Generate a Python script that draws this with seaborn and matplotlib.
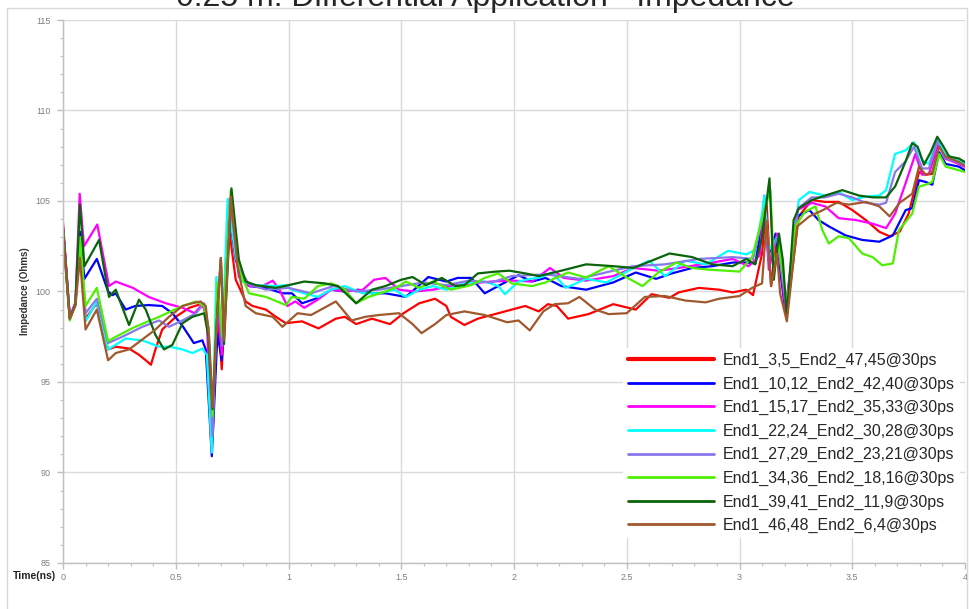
import matplotlib
matplotlib.use("Agg")
import matplotlib.pyplot as plt
import pandas as pd
import seaborn as sns
from matplotlib.patches import Rectangle
from matplotlib.ticker import MultipleLocator, FuncFormatter

# ---------------- data ----------------
series_names = [
    "End1_3,5_End2_47,45@30ps",
    "End1_10,12_End2_42,40@30ps",
    "End1_15,17_End2_35,33@30ps",
    "End1_22,24_End2_30,28@30ps",
    "End1_27,29_End2_23,21@30ps",
    "End1_34,36_End2_18,16@30ps",
    "End1_39,41_End2_11,9@30ps",
    "End1_46,48_End2_6,4@30ps",
]
series_colors = ["#FF0000", "#0000FF", "#FF00FF", "#00FFFF",
                 "#8878EA", "#4CF000", "#0A640A", "#A0582D"]

red_t = [0, 0.03, 0.055, 0.075, 0.1, 0.15, 0.2, 0.234, 0.293, 0.337, 0.367, 0.39, 0.41, 0.44, 0.5, 0.56, 0.61, 0.633, 0.648, 0.665, 0.685, 0.704, 0.737, 0.766, 0.81, 0.84, 0.9, 0.944, 0.988, 1.06, 1.133, 1.21, 1.25, 1.3, 1.37, 1.45, 1.51, 1.58, 1.65, 1.7, 1.72, 1.78, 1.84, 1.9, 1.99, 2.05, 2.11, 2.15, 2.19, 2.24, 2.33, 2.44, 2.54, 2.61, 2.69, 2.73, 2.82, 2.91, 2.97, 3.03, 3.06, 3.1, 3.12, 3.14, 3.167, 3.21, 3.263, 3.32, 3.38, 3.44, 3.5, 3.56, 3.62, 3.666, 3.71, 3.75, 3.796, 3.826, 3.855, 3.885, 3.914, 3.973, 4.0]
red_v = [103.8, 98.5, 99.3, 103.2, 98.5, 99.35, 96.8, 96.95, 96.85, 96.5, 96.2, 95.95, 96.8, 97.9, 98.6, 99.1, 99.3, 99.0, 97.0, 92.5, 99.0, 95.7, 103.4, 100.65, 99.45, 99.2, 99.0, 98.6, 98.25, 98.35, 97.96, 98.5, 98.6, 98.2, 98.5, 98.2, 98.8, 99.35, 99.6, 99.2, 98.6, 98.15, 98.5, 98.7, 99.0, 99.2, 98.9, 99.3, 99.2, 98.5, 98.75, 99.3, 99.0, 99.85, 99.65, 99.95, 100.2, 100.1, 99.95, 100.1, 99.8, 102.1, 104.9, 100.3, 103.0, 98.8, 104.15, 105.05, 104.95, 104.95, 104.5, 103.95, 103.3, 103.05, 103.3, 104.3, 106.6, 106.45, 106.5, 108.1, 107.45, 107.05, 106.9]

blue_t = [0, 0.03, 0.055, 0.075, 0.095, 0.15, 0.2, 0.22, 0.234, 0.278, 0.32, 0.38, 0.44, 0.485, 0.53, 0.58, 0.618, 0.633, 0.66, 0.685, 0.704, 0.737, 0.766, 0.796, 0.825, 0.9, 0.973, 1.015, 1.06, 1.12, 1.19, 1.25, 1.31, 1.37, 1.43, 1.52, 1.58, 1.62, 1.7, 1.75, 1.81, 1.87, 1.93, 2.02, 2.08, 2.14, 2.21, 2.32, 2.44, 2.54, 2.63, 2.7, 2.79, 2.88, 2.97, 3.03, 3.07, 3.11, 3.13, 3.16, 3.204, 3.256, 3.31, 3.35, 3.396, 3.47, 3.544, 3.62, 3.68, 3.737, 3.766, 3.796, 3.826, 3.855, 3.885, 3.914, 3.973, 4.0]
blue_v = [103.5, 98.6, 99.3, 103.3, 100.7, 101.8, 100.0, 99.8, 99.9, 99.0, 99.2, 99.25, 99.2, 98.8, 98.1, 97.15, 97.3, 96.8, 90.9, 97.7, 96.2, 104.3, 101.75, 100.65, 100.3, 100.2, 99.9, 99.9, 99.35, 99.6, 100.1, 100.0, 100.1, 99.9, 99.9, 99.7, 100.35, 100.8, 100.55, 100.75, 100.75, 99.9, 100.3, 100.9, 100.55, 100.75, 100.3, 100.1, 100.5, 101.05, 100.7, 101.0, 101.3, 101.4, 101.6, 101.6, 101.55, 104.5, 101.75, 103.2, 98.8, 104.15, 104.5, 103.95, 103.6, 103.1, 102.85, 102.75, 103.1, 104.5, 104.6, 106.15, 106.05, 105.9, 107.7, 107.05, 106.9, 106.7]

mag_t = [0, 0.03, 0.055, 0.074, 0.093, 0.152, 0.204, 0.234, 0.31, 0.38, 0.456, 0.53, 0.584, 0.618, 0.638, 0.658, 0.685, 0.704, 0.737, 0.78, 0.825, 0.885, 0.93, 0.96, 0.995, 1.03, 1.07, 1.13, 1.19, 1.25, 1.33, 1.38, 1.43, 1.49, 1.56, 1.64, 1.72, 1.81, 1.9, 1.99, 2.08, 2.16, 2.22, 2.32, 2.44, 2.53, 2.64, 2.73, 2.88, 2.97, 3.04, 3.07, 3.09, 3.11, 3.13, 3.167, 3.204, 3.256, 3.32, 3.38, 3.44, 3.515, 3.59, 3.65, 3.69, 3.737, 3.78, 3.81, 3.84, 3.885, 3.91, 3.973, 4.0]
mag_v = [103.6, 98.6, 99.4, 105.4, 102.5, 103.7, 100.3, 100.55, 100.2, 99.7, 99.35, 99.1, 98.8, 99.3, 98.5, 91.3, 99.5, 96.5, 105.1, 100.8, 100.3, 100.3, 100.6, 100.1, 99.2, 99.45, 99.1, 99.55, 100.1, 100.0, 100.1, 100.65, 100.75, 100.1, 100.0, 100.1, 100.3, 100.45, 100.55, 100.6, 100.55, 101.3, 100.75, 100.6, 100.85, 101.3, 101.15, 101.3, 101.6, 101.8, 101.4, 101.75, 102.0, 105.3, 101.2, 103.2, 99.0, 104.5, 104.9, 104.7, 104.05, 103.95, 103.75, 103.5, 104.3, 106.0, 107.6, 106.45, 106.5, 108.25, 107.35, 107.05, 106.9]

cyan_t = [0, 0.03, 0.055, 0.075, 0.1, 0.15, 0.2, 0.278, 0.352, 0.426, 0.47, 0.53, 0.574, 0.618, 0.638, 0.66, 0.68, 0.707, 0.73, 0.766, 0.796, 0.855, 0.944, 0.988, 1.015, 1.07, 1.13, 1.19, 1.25, 1.33, 1.4, 1.47, 1.52, 1.58, 1.64, 1.7, 1.78, 1.87, 1.93, 1.96, 2.02, 2.07, 2.11, 2.17, 2.23, 2.32, 2.41, 2.53, 2.6, 2.67, 2.76, 2.85, 2.95, 3.03, 3.07, 3.1, 3.11, 3.13, 3.167, 3.21, 3.263, 3.31, 3.38, 3.44, 3.5, 3.56, 3.62, 3.65, 3.69, 3.737, 3.774, 3.81, 3.84, 3.877, 3.91, 3.973, 4.0]
cyan_v = [103.3, 98.5, 99.3, 103.0, 98.35, 99.45, 96.8, 97.4, 97.3, 96.95, 96.95, 96.8, 96.6, 96.85, 96.5, 91.1, 100.8, 97.3, 105.1, 101.9, 100.55, 100.35, 100.3, 100.35, 100.1, 99.9, 99.7, 100.1, 100.3, 99.9, 99.9, 100.1, 99.7, 100.1, 100.3, 100.1, 100.45, 100.55, 100.3, 99.85, 100.55, 100.7, 100.75, 101.05, 100.2, 100.7, 100.5, 101.3, 101.7, 100.85, 101.7, 101.5, 102.25, 102.05, 102.3, 104.3, 105.3, 102.3, 103.0, 99.2, 105.05, 105.5, 105.3, 105.5, 105.05, 105.25, 105.3, 105.6, 107.6, 107.8, 108.25, 107.25, 107.05, 108.45, 107.6, 107.25, 107.05]

pur_t = [0, 0.03, 0.055, 0.075, 0.1, 0.15, 0.2, 0.263, 0.352, 0.426, 0.47, 0.53, 0.59, 0.626, 0.645, 0.663, 0.685, 0.707, 0.74, 0.78, 0.825, 0.9, 1.0, 1.1, 1.2, 1.3, 1.4, 1.5, 1.6, 1.7, 1.8, 1.9, 1.99, 2.14, 2.29, 2.44, 2.53, 2.67, 2.82, 2.97, 3.06, 3.11, 3.13, 3.167, 3.21, 3.26, 3.32, 3.38, 3.44, 3.5, 3.56, 3.62, 3.65, 3.69, 3.737, 3.774, 3.81, 3.84, 3.877, 3.91, 3.973, 4.0]
pur_v = [103.3, 98.5, 99.3, 103.0, 98.8, 99.6, 97.15, 97.5, 98.05, 98.4, 98.05, 98.4, 98.8, 99.35, 98.0, 92.0, 100.0, 97.0, 105.0, 101.3, 100.4, 100.1, 100.2, 99.9, 100.3, 100.0, 100.1, 100.3, 100.5, 100.35, 100.6, 100.5, 100.85, 100.95, 100.7, 101.15, 101.4, 101.5, 101.8, 101.9, 101.8, 104.5, 101.8, 103.0, 99.0, 104.6, 105.2, 105.2, 105.4, 105.2, 104.9, 104.8, 104.9, 106.6, 107.2, 108.0, 106.8, 106.8, 108.3, 107.4, 107.1, 106.95]

grn_t = [0, 0.03, 0.055, 0.075, 0.1, 0.15, 0.2, 0.234, 0.32, 0.426, 0.53, 0.59, 0.626, 0.645, 0.663, 0.685, 0.707, 0.744, 0.78, 0.825, 0.9, 0.988, 1.015, 1.07, 1.13, 1.19, 1.25, 1.3, 1.355, 1.43, 1.49, 1.52, 1.58, 1.64, 1.72, 1.81, 1.87, 1.93, 1.99, 2.08, 2.14, 2.24, 2.32, 2.42, 2.5, 2.57, 2.64, 2.72, 2.79, 2.87, 2.94, 3.0, 3.056, 3.115, 3.137, 3.152, 3.175, 3.21, 3.248, 3.29, 3.337, 3.367, 3.396, 3.44, 3.485, 3.544, 3.59, 3.633, 3.68, 3.707, 3.766, 3.796, 3.826, 3.855, 3.885, 3.914, 3.973, 4.0]
grn_v = [103.3, 98.4, 99.3, 103.0, 99.2, 100.2, 97.25, 97.5, 98.05, 98.6, 99.2, 99.45, 99.2, 98.0, 93.1, 100.5, 97.5, 105.6, 101.2, 99.9, 99.7, 99.25, 99.7, 99.6, 100.3, 100.45, 100.1, 99.35, 99.7, 100.0, 100.3, 100.55, 100.2, 100.55, 100.1, 100.35, 100.75, 101.0, 100.45, 100.3, 100.5, 101.05, 100.77, 101.4, 100.77, 100.3, 101.05, 101.6, 101.3, 101.2, 101.15, 101.1, 101.9, 104.7, 105.6, 101.4, 102.65, 99.2, 103.6, 104.4, 104.7, 103.4, 102.65, 103.05, 102.95, 102.1, 101.9, 101.45, 101.55, 103.4, 104.3, 105.8, 105.9, 106.05, 107.6, 106.9, 106.7, 106.6]

dkg_t = [0, 0.03, 0.055, 0.075, 0.095, 0.16, 0.204, 0.234, 0.256, 0.293, 0.337, 0.367, 0.41, 0.448, 0.485, 0.53, 0.574, 0.626, 0.645, 0.663, 0.685, 0.7, 0.714, 0.747, 0.78, 0.81, 0.855, 0.944, 1.0, 1.07, 1.16, 1.22, 1.3, 1.37, 1.43, 1.5, 1.55, 1.61, 1.68, 1.74, 1.78, 1.84, 1.92, 1.98, 2.05, 2.11, 2.21, 2.32, 2.44, 2.53, 2.61, 2.69, 2.79, 2.88, 2.97, 3.03, 3.07, 3.1, 3.133, 3.152, 3.175, 3.192, 3.21, 3.24, 3.263, 3.32, 3.38, 3.456, 3.53, 3.59, 3.65, 3.69, 3.737, 3.766, 3.79, 3.818, 3.848, 3.877, 3.9, 3.93, 3.973, 4.0]
dkg_v = [103.5, 98.5, 99.3, 104.8, 101.4, 102.85, 99.7, 100.1, 99.35, 98.15, 99.55, 99.0, 97.6, 96.8, 97.05, 98.25, 98.6, 98.8, 97.5, 93.5, 99.0, 101.85, 97.1, 105.7, 101.75, 100.55, 100.35, 100.2, 100.35, 100.55, 100.45, 100.3, 99.35, 100.1, 100.3, 100.65, 100.8, 100.35, 100.75, 100.3, 100.35, 101.0, 101.1, 101.15, 101.0, 100.85, 101.15, 101.5, 101.4, 101.3, 101.7, 102.1, 101.9, 101.5, 101.4, 101.8, 101.5, 103.0, 106.25, 100.65, 103.2, 101.75, 98.6, 103.95, 104.6, 105.05, 105.3, 105.6, 105.3, 105.2, 105.2, 105.8, 107.2, 108.2, 108.0, 107.0, 107.7, 108.55, 108.1, 107.45, 107.35, 107.15]

brn_t = [0, 0.03, 0.055, 0.075, 0.1, 0.15, 0.2, 0.234, 0.293, 0.352, 0.41, 0.47, 0.53, 0.574, 0.61, 0.633, 0.648, 0.663, 0.685, 0.7, 0.714, 0.744, 0.774, 0.81, 0.855, 0.93, 0.973, 1.04, 1.1, 1.21, 1.28, 1.34, 1.4, 1.49, 1.55, 1.59, 1.65, 1.7, 1.78, 1.87, 1.92, 1.97, 2.02, 2.07, 2.13, 2.18, 2.24, 2.29, 2.36, 2.42, 2.5, 2.58, 2.67, 2.76, 2.85, 2.91, 3.0, 3.056, 3.1, 3.12, 3.14, 3.167, 3.18, 3.21, 3.256, 3.31, 3.37, 3.43, 3.485, 3.56, 3.62, 3.666, 3.71, 3.766, 3.796, 3.826, 3.855, 3.885, 3.914, 3.973, 4.0]
brn_v = [103.1, 98.5, 99.2, 101.85, 97.9, 99.0, 96.2, 96.6, 96.8, 97.35, 97.9, 98.6, 99.2, 99.35, 99.45, 99.2, 97.5, 93.6, 99.0, 101.85, 97.3, 105.25, 101.4, 99.2, 98.8, 98.6, 98.05, 98.8, 98.7, 99.45, 98.4, 98.6, 98.7, 98.8, 98.2, 97.7, 98.2, 98.7, 98.9, 98.7, 98.5, 98.3, 98.4, 97.85, 98.9, 99.3, 99.35, 99.7, 99.0, 98.75, 98.8, 99.7, 99.75, 99.5, 99.4, 99.6, 99.75, 100.2, 100.45, 103.9, 100.3, 102.1, 99.9, 98.35, 103.6, 104.15, 104.5, 104.9, 104.8, 104.95, 104.7, 104.15, 104.9, 105.4, 106.9, 106.45, 106.6, 108.0, 107.45, 107.15, 106.95]

x_ticks = [0, 0.5, 1, 1.5, 2, 2.5, 3, 3.5, 4]
y_ticks = [85, 90, 95, 100, 105, 110, 115]
title_text = "0.25 m. Differential Application - Impedance"
x_label = "Time(ns)"
y_label = "Impedance (Ohms)"

# ---------------- build table ----------------
all_t = [red_t, blue_t, mag_t, cyan_t, pur_t, grn_t, dkg_t, brn_t]
all_v = [red_v, blue_v, mag_v, cyan_v, pur_v, grn_v, dkg_v, brn_v]
frames = []
for name, t, v in zip(series_names, all_t, all_v):
    frames.append(pd.DataFrame({"Time": t, "Impedance": v, "Series": name}))
df = pd.concat(frames, ignore_index=True)

# ---------------- plot ----------------
sns.set_theme(style="white")
plt.rcParams["font.family"] = ["Liberation Sans", "DejaVu Sans"]

W, H = 969, 609
fig = plt.figure(figsize=(W / 100, H / 100), dpi=100, facecolor="white")
ax = fig.add_axes([63 / W, 1 - 563 / H, 902 / W, 543 / H])

sns.lineplot(data=df, x="Time", y="Impedance", hue="Series",
             hue_order=series_names,
             palette=dict(zip(series_names, series_colors)),
             estimator=None, sort=False, linewidth=1.6, ax=ax, legend=True)
for ln in ax.get_lines():
    ln.set_solid_joinstyle("round")

ax.set_xlim(x_ticks[0], x_ticks[-1])
ax.set_ylim(y_ticks[0], y_ticks[-1])
ax.set_xticks(x_ticks)
ax.set_yticks(y_ticks)
ax.xaxis.set_minor_locator(MultipleLocator(0.1))
ax.yaxis.set_minor_locator(MultipleLocator(1))
ax.xaxis.set_major_formatter(FuncFormatter(lambda v, p: f"{v:g}"))
ax.yaxis.set_major_formatter(FuncFormatter(lambda v, p: f"{v:g}"))
ax.set_axisbelow(True)
ax.grid(which="major", color="#DADADA", linewidth=1.0)
for s in ["top", "right"]:
    ax.spines[s].set_visible(False)
for s in ["left", "bottom"]:
    ax.spines[s].set_color("#BFBFBF")
    ax.spines[s].set_linewidth(1.0)
ax.tick_params(which="both", bottom=True, left=True, direction="out",
               color="#BFBFBF", labelsize=6.5, labelcolor="#7F7F7F")
ax.tick_params(which="major", length=4, width=1)
ax.tick_params(axis="y", which="major", pad=5)
ax.tick_params(axis="x", which="major", pad=3)
ax.tick_params(which="minor", length=2.5, width=0.8)

ax.set_xlabel("")
ax.set_ylabel(y_label, fontsize=7, fontweight="bold", color="#333333")
ax.yaxis.set_label_coords(-33 / 902, 0.5)
fig.text(34 / W, 1 - 576 / H, x_label, fontsize=7.5, fontweight="bold",
         color="#222222", ha="center", va="center")

fig.text(485 / W, 1 - 6 / H, title_text, fontsize=23, color="#262626",
         ha="center", va="baseline")

fig.add_artist(Rectangle((7 / W, -0.01), 960 / W, 1 - 8 / H + 0.01,
                         transform=fig.transFigure, fill=False,
                         edgecolor="#D9D9D9", linewidth=1.0))

handles, labels = ax.get_legend_handles_labels()
leg = ax.legend(handles, labels, loc="upper left",
                bbox_to_anchor=(615 / W, 1 - 340 / H),
                bbox_transform=fig.transFigure,
                frameon=True, facecolor="white", edgecolor="none",
                framealpha=1, fancybox=False, fontsize=11.5,
                handlelength=5.4, handletextpad=0.55, labelspacing=0.53,
                borderpad=0.3)
for i, h in enumerate(leg.legend_handles):
    h.set_linewidth(3.0 if i == 0 else 2.0)
for txt in leg.get_texts():
    txt.set_color("#262626")

fig.savefig("out.png", dpi=100, facecolor="white")
